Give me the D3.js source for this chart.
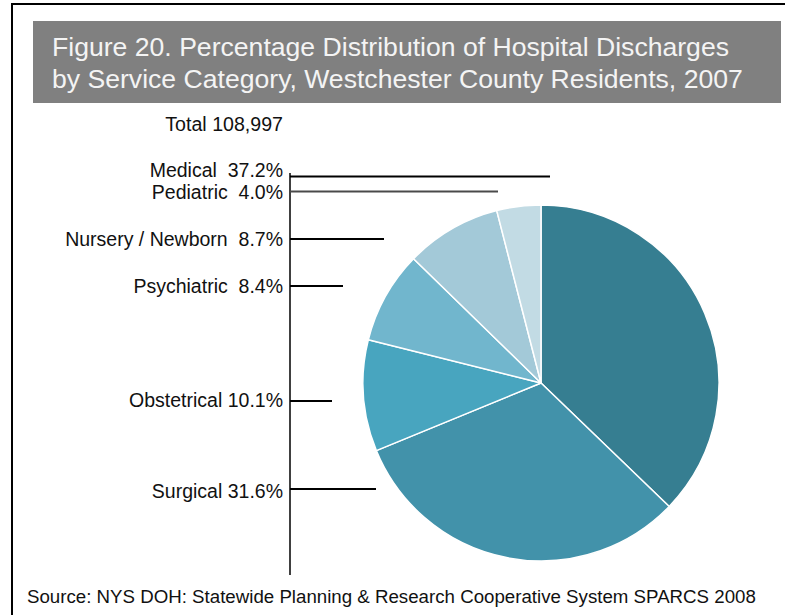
<!DOCTYPE html>
<html>
<head>
<meta charset="utf-8">
<script src="https://cdn.jsdelivr.net/npm/d3@7"></script>
<style>
  html, body { margin: 0; padding: 0; background: #fff; }
  svg { display: block; }
  text { font-family: "Liberation Sans", Arial, sans-serif; }
</style>
</head>
<body>
<svg id="chart" width="785" height="615"></svg>
<script>
// ---- data ----
const categories = ["Medical", "Surgical", "Obstetrical", "Psychiatric", "Nursery / Newborn", "Pediatric"];
const values = [37.2, 31.6, 10.1, 8.4, 8.7, 4.0];
const colors = ["#367e91", "#4292aa", "#48a5bf", "#71b6cd", "#a3c9d8", "#c2dbe4"];
const separators = ["  ", " ", " ", "  ", "  ", "  "];
const titleLines = ["Figure 20. Percentage Distribution of Hospital Discharges",
                    "by Service Category, Westchester County Residents, 2007"];
const totalLabel = "Total 108,997";
const sourceLabel = "Source: NYS DOH: Statewide Planning & Research Cooperative System SPARCS 2008";

// ---- layout (label / leader positions) ----
const labelLayout = {
  "Medical":           { textY: 177, lineY: 176.5, lineEnd: 550, stroke: "#000", width: 2 },
  "Pediatric":         { textY: 199, lineY: 191.5, lineEnd: 498, stroke: "#4a4a4a", width: 2 },
  "Nursery / Newborn": { textY: 246, lineY: 239,   lineEnd: 384, stroke: "#000", width: 2 },
  "Psychiatric":       { textY: 293, lineY: 286,   lineEnd: 343, stroke: "#000", width: 2 },
  "Obstetrical":       { textY: 407, lineY: 401,   lineEnd: 332, stroke: "#000", width: 2 },
  "Surgical":          { textY: 498, lineY: 489,   lineEnd: 376, stroke: "#000", width: 2 }
};

const svg = d3.select("#chart");

// frame
svg.append("rect").attr("x", 12).attr("y", 4).attr("width", 800).attr("height", 640)
  .attr("fill", "none").attr("stroke", "#000").attr("stroke-width", 2);

// title box
svg.append("rect").attr("x", 33).attr("y", 21).attr("width", 748).attr("height", 82)
  .attr("fill", "#808080");
svg.append("g").selectAll("text").data(titleLines).join("text")
  .attr("x", 52).attr("y", (d, i) => 56 + i * 31.5)
  .attr("fill", "#f4f4f4").attr("font-size", 26.6)
  .text(d => d);

// total
svg.append("text").attr("x", 283).attr("y", 131).attr("text-anchor", "end")
  .attr("font-size", 19.6).attr("fill", "#111").text(totalLabel);

// pie
const cx = 541, cy = 383, r = 178;
const pie = d3.pie().sort(null).value(d => d.value);
const arc = d3.arc().innerRadius(0).outerRadius(r);
const data = categories.map((c, i) => ({ name: c, value: values[i], color: colors[i], sep: separators[i] }));
const g = svg.append("g").attr("transform", `translate(${cx},${cy})`);
g.selectAll("path").data(pie(data)).join("path")
  .attr("d", arc)
  .attr("fill", d => d.data.color)
  .attr("stroke", "#fff").attr("stroke-width", 1.5).attr("stroke-linejoin", "round");

// leader axis line
svg.append("line").attr("x1", 290).attr("x2", 290).attr("y1", 173).attr("y2", 575)
  .attr("stroke", "#000").attr("stroke-width", 1.5);

// leader lines and labels
const lab = svg.append("g");
data.forEach(d => {
  const L = labelLayout[d.name];
  lab.append("line").attr("x1", 290).attr("x2", L.lineEnd).attr("y1", L.lineY).attr("y2", L.lineY)
    .attr("stroke", L.stroke).attr("stroke-width", L.width);
  lab.append("text").attr("x", 283).attr("y", L.textY).attr("text-anchor", "end")
    .attr("font-size", 19.5).attr("fill", "#111").style("white-space", "pre")
    .text(d.name + d.sep + d3.format(".1f")(d.value) + "%");
});

// source
svg.append("text").attr("x", 27).attr("y", 603).attr("font-size", 18.7).attr("fill", "#111")
  .text(sourceLabel);
</script>
</body>
</html>
